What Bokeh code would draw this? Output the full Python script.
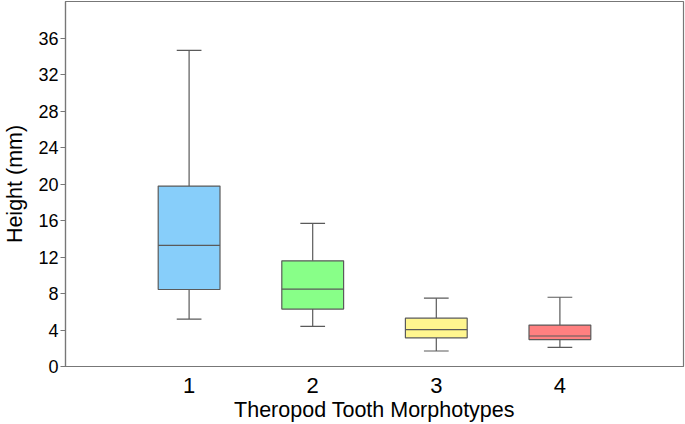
from bokeh.plotting import figure
from bokeh.models import FixedTicker, Range1d
from bokeh.embed import file_html
from bokeh.resources import INLINE

categories = [1, 2, 3, 4]
lower_whisker = [5.2, 4.4, 1.7, 2.1]
q1 = [8.45, 6.3, 3.15, 2.95]
median = [13.3, 8.5, 4.05, 3.35]
q3 = [19.8, 11.6, 5.3, 4.55]
upper_whisker = [34.7, 15.7, 7.5, 7.6]
colors = ["#87CEFA", "#88FF88", "#FFF68F", "#FF8080"]
y_ticks = [0, 4, 8, 12, 16, 20, 24, 28, 32, 36]

box_w = 0.5
cap_w = 0.2
edge = "#5a5a5a"

p = figure(width=685, height=424, output_backend="svg", toolbar_location=None,
           x_range=Range1d(0, 5), y_range=Range1d(0, 40.06),
           min_border_left=65, min_border_right=2, min_border_top=1, min_border_bottom=58)

p.grid.visible = False
p.outline_line_color = "#777777"
p.outline_line_width = 1.2
p.background_fill_color = "white"

# whiskers
p.segment(x0=categories, y0=q3, x1=categories, y1=upper_whisker, line_color=edge, line_width=1.2)
p.segment(x0=categories, y0=lower_whisker, x1=categories, y1=q1, line_color=edge, line_width=1.2)
cl = [c - cap_w / 2 for c in categories]
cr = [c + cap_w / 2 for c in categories]
p.segment(x0=cl, y0=upper_whisker, x1=cr, y1=upper_whisker, line_color=edge, line_width=1.2)
p.segment(x0=cl, y0=lower_whisker, x1=cr, y1=lower_whisker, line_color=edge, line_width=1.2)
# boxes
p.vbar(x=categories, width=box_w, bottom=q1, top=q3, fill_color=colors,
       line_color=edge, line_width=1.2)
bl = [c - box_w / 2 for c in categories]
br = [c + box_w / 2 for c in categories]
p.segment(x0=bl, y0=median, x1=br, y1=median, line_color=edge, line_width=1.2)

# axes
p.yaxis.ticker = FixedTicker(ticks=y_ticks)
p.xaxis.ticker = FixedTicker(ticks=categories)
p.yaxis.minor_tick_line_color = None
p.xaxis.minor_tick_line_color = None
p.xaxis.major_tick_line_color = None
p.yaxis.major_tick_out = 5
p.yaxis.major_tick_in = 0
p.yaxis.major_tick_line_color = "#777777"
p.axis.axis_line_color = "#777777"
p.axis.axis_line_width = 1.2
p.yaxis.major_label_standoff = 2
p.xaxis.major_label_standoff = 5
p.axis.major_label_text_font = "Liberation Sans"
p.axis.axis_label_text_font = "Liberation Sans"
p.axis.major_label_text_color = "black"
p.axis.axis_label_text_color = "black"
p.axis.axis_label_text_font_style = "normal"
p.yaxis.major_label_text_font_size = "18px"
p.xaxis.major_label_text_font_size = "22px"
p.axis.axis_label_text_font_size = "21.5px"
p.xaxis.axis_label = "Theropod Tooth Morphotypes"
p.yaxis.axis_label = "Height (mm)"
p.xaxis.axis_label_standoff = 2
p.yaxis.axis_label_standoff = 8

open("out.html", "w").write(file_html(p, INLINE))
